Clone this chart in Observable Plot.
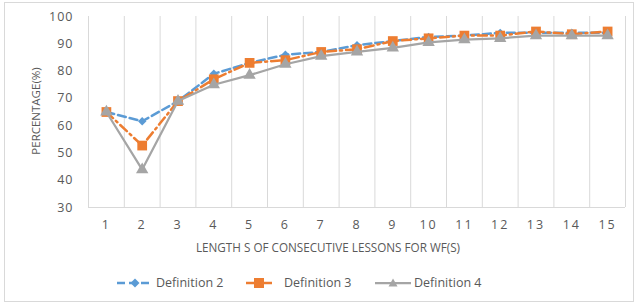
<!DOCTYPE html>
<html>
<head>
<meta charset="utf-8">
<script src="https://cdn.jsdelivr.net/npm/d3@7"></script>
<script src="https://cdn.jsdelivr.net/npm/@observablehq/plot@0.6"></script>
<style>
  body { margin: 0; background: #fff; font-family: "Open Sans", sans-serif; color: #595959; }
  #wrap { position: relative; width: 638px; height: 305px; overflow: hidden; }
  #border { position: absolute; left: 4px; top: 2px; width: 630px; height: 300px; border: 1px solid #d9d9d9; box-sizing: border-box; }
  #chart { position: absolute; left: 0; top: 0; }
  svg [aria-label^="x-axis"] text { letter-spacing: 2px; }
  svg [aria-label^="y-axis"] text { letter-spacing: 1px; }
  .title { position: absolute; font-size: 12px; color: #595959; white-space: nowrap; }
  .leg { position: absolute; top: 274px; font-size: 12.5px; color: #595959; white-space: nowrap; line-height: 18px; }
  .leg svg { position: absolute; top: 0; }
</style>
</head>
<body>
<div id="wrap">
  <div id="border"></div>
  <div id="chart"></div>
  <div class="title" id="xt" style="left:328px; top:239px; font-size:11.7px; transform: translateX(-50%);">LENGTH S OF CONSECUTIVE LESSONS FOR WF(S)</div>
  <div class="title" id="yt" style="left:35px; top:111px; font-size:11.5px; transform: translate(-50%,-50%) rotate(-90deg);">PERCENTAGE(%)</div>
  <div class="leg" style="left:117px; width:36px;">
    <svg width="36" height="18"><line x1="0" y1="9" x2="36" y2="9" stroke="#5B9BD5" stroke-width="2.5" stroke-dasharray="8,4"/><path d="M18,4.5L22.5,9L18,13.5L13.5,9Z" fill="#5B9BD5"/></svg>
  </div>
  <div class="leg" style="left:156px;">Definition 2</div>
  <div class="leg" style="left:246px; width:26px;">
    <svg width="26" height="18"><line x1="0" y1="9" x2="26" y2="9" stroke="#ED7D31" stroke-width="2.5"/><rect x="8" y="4" width="10" height="10" fill="#ED7D31"/></svg>
  </div>
  <div class="leg" style="left:284px;">Definition 3</div>
  <div class="leg" style="left:375px; width:36px;">
    <svg width="36" height="18"><line x1="0" y1="9" x2="36" y2="9" stroke="#A5A5A5" stroke-width="2.25"/><path d="M18,4.5L22.5,12.5L13.5,12.5Z" fill="#A5A5A5"/></svg>
  </div>
  <div class="leg" style="left:414px;">Definition 4</div>
</div>
<script>
const lessons = [1, 2, 3, 4, 5, 6, 7, 8, 9, 10, 11, 12, 13, 14, 15];
const definition2 = [65, 61.6, 69, 79, 83, 86, 87, 89.5, 91, 92.5, 93, 94, 94, 94, 94];
const definition3 = [65, 52.7, 69, 77, 83, 84, 87, 88, 91, 92, 93, 93, 94.5, 93.5, 94.5];
const definition4 = [65, 43.9, 69, 75, 78.5, 82.5, 85.5, 87, 88.5, 90.5, 91.5, 92, 93, 93, 93];
const yTicks = [30, 40, 50, 60, 70, 80, 90, 100];

const rows = (vals, name) => lessons.map((l, i) => ({lesson: l, value: vals[i], series: name}));
const d2 = rows(definition2, "Definition 2");
const d3r = rows(definition3, "Definition 3");
const d4 = rows(definition4, "Definition 4");
const gridX = lessons.map(l => l - 0.5).concat([lessons[lessons.length - 1] + 0.5]);

const chart = Plot.plot({
  width: 638,
  height: 262,
  marginLeft: 88,
  marginRight: 13,
  marginTop: 16,
  marginBottom: 55,
  style: {fontFamily: "Open Sans, sans-serif", fontSize: "12.5px", color: "#595959", background: "transparent", overflow: "visible"},
  x: {type: "linear", domain: [0.5, 15.5], ticks: lessons, tickSize: 0, tickPadding: 13, tickFormat: d => String(d), label: null},
  y: {domain: [30, 100], ticks: yTicks, tickSize: 0, tickPadding: 15, label: null},
  marks: [
    Plot.ruleX(gridX, {stroke: "#d9d9d9", strokeWidth: 1, strokeOpacity: 1}),
    Plot.ruleY([30], {stroke: "#d9d9d9", strokeWidth: 1, strokeOpacity: 1}),
    Plot.line(d2, {x: "lesson", y: "value", stroke: "#5B9BD5", strokeWidth: 2.5, strokeDasharray: "8,4"}),
    Plot.dot(d2, {x: "lesson", y: "value", symbol: "diamond2", r: 3.8, fill: "#5B9BD5", stroke: "none"}),
    Plot.line(d3r, {x: "lesson", y: "value", stroke: "#ED7D31", strokeWidth: 2.5, strokeDasharray: "9,4,2,4"}),
    Plot.dot(d3r, {x: "lesson", y: "value", symbol: "square", r: 5.5, fill: "#ED7D31", stroke: "none"}),
    Plot.line(d4, {x: "lesson", y: "value", stroke: "#A5A5A5", strokeWidth: 2.25}),
    Plot.dot(d4, {x: "lesson", y: "value", symbol: "triangle", r: 4.6, fill: "#A5A5A5", stroke: "none"})
  ]
});
document.getElementById("chart").appendChild(chart);
</script>
</body>
</html>
